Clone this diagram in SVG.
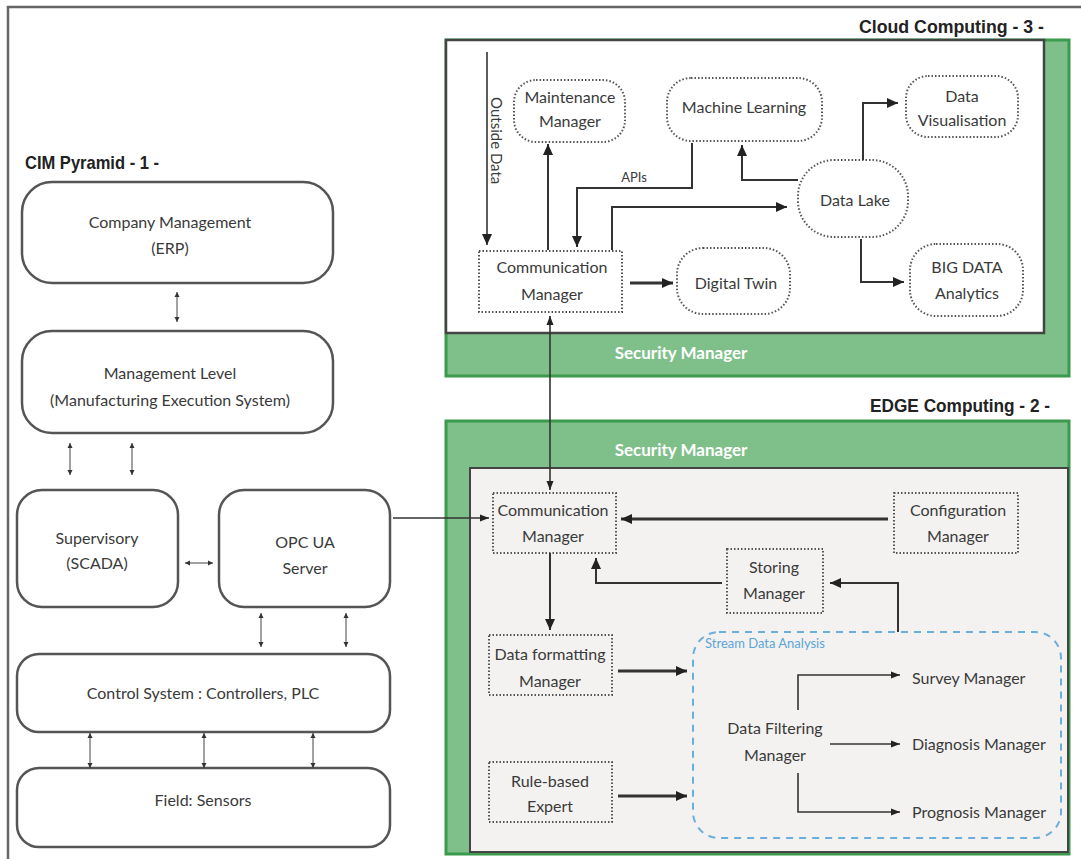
<svg xmlns="http://www.w3.org/2000/svg" width="1081" height="859" viewBox="0 0 1081 859">
<style>
.t{font-family:Lato,"Open Sans",sans-serif;font-size:16px;fill:#3a3a3a;text-anchor:middle}
.ts{font-family:Lato,"Open Sans",sans-serif;font-size:16px;fill:#3a3a3a}
.h{font-family:"Liberation Sans",Arial,sans-serif;font-weight:bold;font-size:18.5px;fill:#222}
.sec{font-family:Lato,"Open Sans",sans-serif;font-weight:bold;font-size:17px;fill:#fff;text-anchor:middle}
.pb{fill:#fff;stroke:#555;stroke-width:2.5}
.dn{fill:#fff;stroke:#555;stroke-width:2;stroke-dasharray:1.5 2}
.de{fill:none;stroke:#555;stroke-width:2;stroke-dasharray:1.5 2}
.ln{fill:none;stroke:#333;stroke-width:2}
.lt{fill:none;stroke:#333;stroke-width:3}
.lf{fill:none;stroke:#333;stroke-width:1.6}
.thin{fill:none;stroke:#444;stroke-width:1}
.green{fill:#7fc08a;stroke:#3b9a4b;stroke-width:3}
</style>
<defs>
<marker id="ah" markerUnits="userSpaceOnUse" markerWidth="12" markerHeight="12" refX="11" refY="6" orient="auto"><path d="M0,1 L11,6 L0,11 z" fill="#222"/></marker>
<marker id="ahs" markerUnits="userSpaceOnUse" markerWidth="10" markerHeight="10" refX="9" refY="5" orient="auto-start-reverse"><path d="M0,1.5 L9,5 L0,8.5 z" fill="#222"/></marker>
<marker id="sm" markerUnits="userSpaceOnUse" markerWidth="6" markerHeight="6" refX="5" refY="3" orient="auto-start-reverse"><path d="M0,0.5 L5,3 L0,5.5 z" fill="#333"/></marker>
</defs>
<rect width="1081" height="859" fill="#fff"/>
<path d="M8,859 V7 H1081" fill="none" stroke="#666" stroke-width="2.5"/>

<!-- headings -->
<text class="h" x="25" y="169" textLength="134" lengthAdjust="spacingAndGlyphs">CIM Pyramid - 1 -</text>
<text class="h" x="859" y="33" textLength="185" lengthAdjust="spacingAndGlyphs">Cloud Computing - 3 -</text>
<text class="h" x="870" y="412" textLength="180" lengthAdjust="spacingAndGlyphs">EDGE Computing - 2 -</text>

<!-- Cloud container -->
<g id="cloud">
<rect class="green" x="446" y="40" width="623" height="336"/>
<rect x="446" y="40" width="598" height="293" fill="#fff" stroke="#444" stroke-width="2.5"/>
<text class="sec" x="681" y="359">Security Manager</text>
</g>

<!-- Edge container -->
<g id="edge">
<rect class="green" x="446" y="421" width="623" height="433"/>
<rect x="470" y="468" width="598" height="384" fill="#f4f2f0" stroke="#444" stroke-width="2"/>
<text class="sec" x="681" y="456">Security Manager</text>
</g>

<!-- Pyramid nodes -->
<g id="company"><rect class="pb" x="22" y="182" width="311" height="101" rx="30"/><text class="t" x="170" y="228">Company Management</text><text class="t" x="170" y="254">(ERP)</text></g>
<g id="mes"><rect class="pb" x="22" y="331" width="311" height="102" rx="30"/><text class="t" x="170" y="379">Management Level</text><text class="t" x="170" y="406">(Manufacturing Execution System)</text></g>
<g id="scada"><rect class="pb" x="17" y="490" width="161" height="117" rx="25"/><text class="t" x="97" y="544">Supervisory</text><text class="t" x="97" y="569">(SCADA)</text></g>
<g id="opcua"><rect class="pb" x="219" y="490" width="171" height="117" rx="25"/><text class="t" x="305" y="548">OPC UA</text><text class="t" x="305" y="574">Server</text></g>
<g id="control"><rect class="pb" x="17" y="654" width="373" height="78" rx="22"/><text class="t" x="203" y="699">Control System : Controllers, PLC</text></g>
<g id="field"><rect class="pb" x="17" y="768" width="373" height="79" rx="22"/><text class="t" x="203" y="806">Field: Sensors</text></g>

<!-- Cloud nodes -->
<g id="maintenance"><rect class="dn" x="514" y="80" width="111" height="62" rx="22"/><text class="t" x="570" y="103">Maintenance</text><text class="t" x="570" y="127">Manager</text></g>
<g id="ml"><rect class="dn" x="667" y="78" width="155" height="63" rx="24"/><text class="t" x="744" y="113">Machine Learning</text></g>
<g id="datavis"><rect class="dn" x="906" y="76" width="112" height="61" rx="22"/><text class="t" x="962" y="102">Data</text><text class="t" x="962" y="126">Visualisation</text></g>
<g id="datalake"><rect class="dn" x="798" y="160" width="110" height="77" rx="36"/><text class="t" x="855" y="206">Data Lake</text></g>
<g id="cloudcomm"><rect class="dn" x="479" y="251" width="143" height="61"/><text class="t" x="552" y="273">Communication</text><text class="t" x="552" y="300">Manager</text></g>
<g id="twin"><rect class="dn" x="677" y="248" width="113" height="66" rx="26"/><text class="t" x="736" y="289">Digital Twin</text></g>
<g id="bigdata"><rect class="dn" x="910" y="244" width="113" height="72" rx="26"/><text class="t" x="967" y="273">BIG DATA</text><text class="t" x="967" y="299">Analytics</text></g>

<!-- Edge nodes -->
<g id="edgecomm"><rect class="de" x="493" y="493" width="123" height="60"/><text class="t" x="553" y="516">Communication</text><text class="t" x="553" y="542">Manager</text></g>
<g id="config"><rect class="de" x="894" y="493" width="124" height="60"/><text class="t" x="958" y="516">Configuration</text><text class="t" x="958" y="542">Manager</text></g>
<g id="storing"><rect class="de" x="727" y="549" width="96" height="64"/><text class="t" x="774" y="573">Storing</text><text class="t" x="774" y="599">Manager</text></g>
<g id="formatting"><rect class="de" x="489" y="635" width="123" height="60"/><text class="t" x="550" y="660">Data formatting</text><text class="t" x="550" y="687">Manager</text></g>
<g id="rule"><rect class="de" x="489" y="762" width="123" height="60"/><text class="t" x="550" y="787">Rule-based</text><text class="t" x="550" y="812">Expert</text></g>
<g id="stream">
<rect x="693" y="632" width="368" height="206" rx="26" fill="none" stroke="#6aaedc" stroke-width="2" stroke-dasharray="7 6"/>
<text x="705" y="648" font-family="Lato,'Open Sans',sans-serif" font-size="13" fill="#5aa5d8">Stream Data Analysis</text>
</g>
<g id="filtering"><text class="t" x="775" y="734">Data Filtering</text><text class="t" x="775" y="761">Manager</text></g>
<g id="survey"><text class="ts" x="912" y="684">Survey Manager</text></g>
<g id="diagnosis"><text class="ts" x="912" y="750">Diagnosis Manager</text></g>
<g id="prognosis"><text class="ts" x="912" y="818">Prognosis Manager</text></g>

<!-- Connectors -->
<g id="connectors">
<!-- pyramid -->
<line class="thin" x1="177" y1="292" x2="177" y2="322" marker-start="url(#sm)" marker-end="url(#sm)"/>
<line class="thin" x1="70" y1="443" x2="70" y2="475" marker-start="url(#sm)" marker-end="url(#sm)"/>
<line class="thin" x1="132" y1="443" x2="132" y2="475" marker-start="url(#sm)" marker-end="url(#sm)"/>
<line class="thin" x1="185" y1="563" x2="213" y2="563" marker-start="url(#sm)" marker-end="url(#sm)"/>
<line class="thin" x1="261" y1="613" x2="261" y2="647" marker-start="url(#sm)" marker-end="url(#sm)"/>
<line class="thin" x1="346" y1="613" x2="346" y2="647" marker-start="url(#sm)" marker-end="url(#sm)"/>
<line class="thin" x1="90" y1="733" x2="90" y2="768" marker-start="url(#sm)" marker-end="url(#sm)"/>
<line class="thin" x1="204" y1="733" x2="204" y2="768" marker-start="url(#sm)" marker-end="url(#sm)"/>
<line class="thin" x1="313" y1="733" x2="313" y2="768" marker-start="url(#sm)" marker-end="url(#sm)"/>
<!-- OPC to edge -->
<path class="lf" d="M393,518 H489" marker-end="url(#ahs)"/>
<!-- cloud -->
<path class="lf" d="M487,52 V245" marker-end="url(#ah)"/>
<text transform="translate(491,97) rotate(90)" font-family="Lato,'Open Sans',sans-serif" font-size="15" fill="#3a3a3a">Outside Data</text>
<path class="ln" d="M548,250 V144" marker-end="url(#ah)"/>
<path class="ln" d="M692,143 V188 H577 V247" marker-end="url(#ah)"/>
<text x="634" y="182" font-family="Lato,'Open Sans',sans-serif" font-size="13" fill="#3a3a3a" text-anchor="middle">APIs</text>
<path class="ln" d="M612,250 V207 H787" marker-end="url(#ah)"/>
<path class="ln" d="M798,180 H742 V145" marker-end="url(#ah)"/>
<path class="ln" d="M863,160 V103 H898" marker-end="url(#ah)"/>
<path class="ln" d="M861,239 V282 H904" marker-end="url(#ah)"/>
<path class="lt" d="M630,283 H673" marker-end="url(#ah)"/>
<path class="lf" d="M550,316 V490" marker-start="url(#ahs)" marker-end="url(#ahs)"/>
<!-- edge -->
<path class="lt" d="M888,519 H621" marker-end="url(#ah)"/>
<path class="ln" d="M722,583 H596 V558" marker-end="url(#ah)"/>
<path class="ln" d="M898,632 V583 H830" marker-end="url(#ah)"/>
<path class="ln" d="M550,553 V630" marker-end="url(#ah)"/>
<path class="lt" d="M618,671 H687" marker-end="url(#ah)"/>
<path class="lt" d="M618,796 H687" marker-end="url(#ah)"/>
<path class="lf" d="M798,710 V675 H900" marker-end="url(#ahs)"/>
<path class="lf" d="M830,744 H900" marker-end="url(#ahs)"/>
<path class="lf" d="M798,773 V812 H900" marker-end="url(#ahs)"/>
</g>
</svg>
